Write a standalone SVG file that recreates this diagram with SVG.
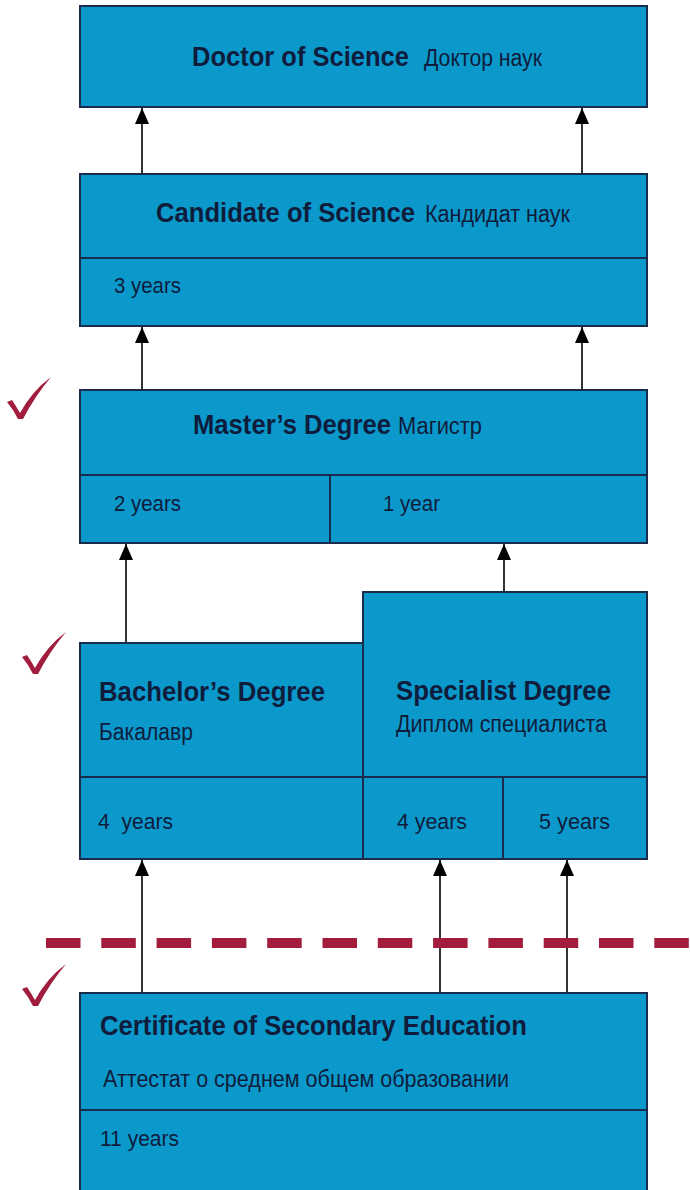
<svg xmlns="http://www.w3.org/2000/svg" width="690" height="1190" viewBox="0 0 690 1190">
<style>
.box{fill:#0b99cb;stroke:#1b2b4b;stroke-width:2}
.div{stroke:#1b2b4b;stroke-width:2;fill:none}
.t{font-family:"Liberation Sans Narrow","Liberation Sans","Arial Narrow",sans-serif;fill:#0f1c3c}
.b{font-weight:bold;font-size:27px}
.r{font-size:23px}
.y{font-size:22px}
.con{stroke:#000;stroke-width:1.6;fill:none;marker-end:url(#ah)}
.tick{fill:#a11d3e}
</style>
<defs>
<marker id="ah" markerUnits="userSpaceOnUse" markerWidth="16" markerHeight="14" refX="16" refY="7" orient="auto" viewBox="0 0 16 14">
<path d="M0,0 L16,7 L0,14 Z" fill="#000"/>
</marker>
<path id="tk" d="M-13,-16 L-8,-18 Q-4,-12 0,-5 Q12,-27 31,-41 Q15,-22 3,1 L-2,1 Q-7,-9 -13,-16 Z"/>
</defs>
<rect width="690" height="1190" fill="#fff"/>

<g id="connectors">
<line class="con" x1="142" y1="174" x2="142" y2="108"/>
<line class="con" x1="582" y1="174" x2="582" y2="108"/>
<line class="con" x1="142" y1="390" x2="142" y2="327"/>
<line class="con" x1="582" y1="390" x2="582" y2="327"/>
<line class="con" x1="126" y1="643" x2="126" y2="544"/>
<line class="con" x1="504" y1="592" x2="504" y2="544"/>
<line class="con" x1="142" y1="993" x2="142" y2="860"/>
<line class="con" x1="440" y1="993" x2="440" y2="860"/>
<line class="con" x1="567" y1="993" x2="567" y2="860"/>
</g>

<g id="divider-line">
<line x1="46" y1="943" x2="690" y2="943" stroke="#a31c3c" stroke-width="10" stroke-dasharray="34.5 20.8"/>
</g>

<g id="checks" class="tick">
<use href="#tk" x="20" y="418"/>
<use href="#tk" x="35" y="673"/>
<use href="#tk" x="35" y="1005"/>
</g>

<g id="doctor">
<rect class="box" x="80" y="6" width="567" height="101"/>
<text class="t b" x="192" y="66" textLength="217" lengthAdjust="spacingAndGlyphs">Doctor of Science</text>
<text class="t r" x="424" y="66" textLength="118" lengthAdjust="spacingAndGlyphs">Доктор наук</text>
</g>

<g id="candidate">
<rect class="box" x="80" y="174" width="567" height="152"/>
<line class="div" x1="80" y1="258" x2="647" y2="258"/>
<text class="t b" x="156" y="222" textLength="259" lengthAdjust="spacingAndGlyphs">Candidate of Science</text>
<text class="t r" x="425" y="222" textLength="145" lengthAdjust="spacingAndGlyphs">Кандидат наук</text>
<text class="t y" x="114" y="293" textLength="67" lengthAdjust="spacingAndGlyphs">3 years</text>
</g>

<g id="master">
<rect class="box" x="80" y="390" width="567" height="153"/>
<line class="div" x1="80" y1="475" x2="647" y2="475"/>
<line class="div" x1="330" y1="475" x2="330" y2="543"/>
<text class="t b" x="193" y="434" textLength="198" lengthAdjust="spacingAndGlyphs">Master’s Degree</text>
<text class="t r" x="398" y="434" textLength="84" lengthAdjust="spacingAndGlyphs">Магистр</text>
<text class="t y" x="114" y="511" textLength="67" lengthAdjust="spacingAndGlyphs">2 years</text>
<text class="t y" x="383" y="511" textLength="57" lengthAdjust="spacingAndGlyphs">1 year</text>
</g>

<g id="bachelor">
<rect class="box" x="80" y="643" width="283" height="216"/>
<line class="div" x1="80" y1="777" x2="363" y2="777"/>
<text class="t b" x="99" y="701" textLength="226" lengthAdjust="spacingAndGlyphs">Bachelor’s Degree</text>
<text class="t r" x="99" y="740" textLength="94" lengthAdjust="spacingAndGlyphs">Бакалавр</text>
<text class="t y" x="98" y="829" textLength="75" lengthAdjust="spacingAndGlyphs" xml:space="preserve">4  years</text>
</g>

<g id="specialist">
<rect class="box" x="363" y="592" width="284" height="267"/>
<line class="div" x1="363" y1="777" x2="647" y2="777"/>
<line class="div" x1="503" y1="777" x2="503" y2="859"/>
<text class="t b" x="396" y="700" textLength="215" lengthAdjust="spacingAndGlyphs">Specialist Degree</text>
<text class="t r" x="396" y="732" textLength="211" lengthAdjust="spacingAndGlyphs">Диплом специалиста</text>
<text class="t y" x="397" y="829" textLength="70" lengthAdjust="spacingAndGlyphs">4 years</text>
<text class="t y" x="539" y="829" textLength="71" lengthAdjust="spacingAndGlyphs">5 years</text>
</g>

<g id="certificate">
<rect class="box" x="80" y="993" width="567" height="210"/>
<line class="div" x1="80" y1="1110" x2="647" y2="1110"/>
<text class="t b" x="100" y="1035" textLength="427" lengthAdjust="spacingAndGlyphs">Certificate of Secondary Education</text>
<text class="t r" x="103" y="1087" textLength="406" lengthAdjust="spacingAndGlyphs">Аттестат о среднем общем образовании</text>
<text class="t y" x="100" y="1146" textLength="79" lengthAdjust="spacingAndGlyphs">11 years</text>
</g>
</svg>
